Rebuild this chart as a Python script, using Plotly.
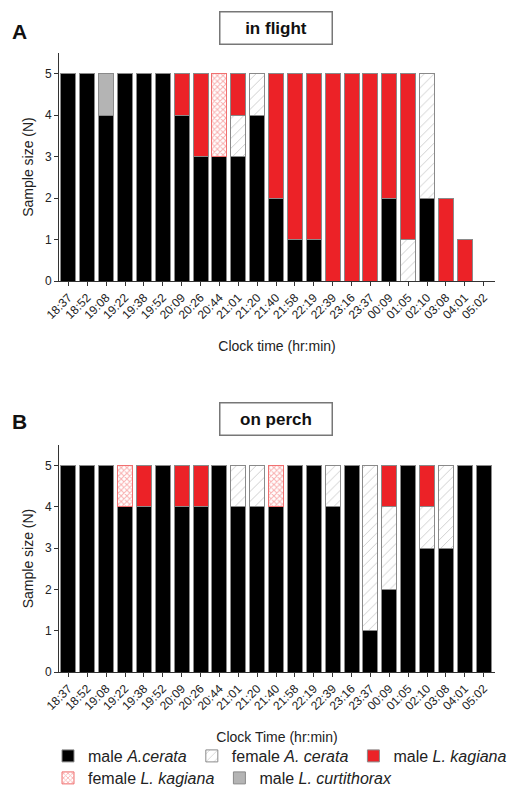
import plotly.graph_objects as go

times = ["18:37", "18:52", "19:08", "19:22", "19:38", "19:52", "20:09", "20:26",
         "20:44", "21:01", "21:20", "21:40", "21:58", "22:19", "22:39", "23:16",
         "23:37", "00:09", "01:05", "02:10", "03:08", "04:01", "05:02"]

# Panel A: in flight
flight_male_acerata = [5, 5, 4, 5, 5, 5, 4, 3, 3, 3, 4, 2, 1, 1, 0, 0, 0, 2, 0, 2, 0, 0, 0]
flight_female_acerata = [0, 0, 0, 0, 0, 0, 0, 0, 0, 1, 1, 0, 0, 0, 0, 0, 0, 0, 1, 3, 0, 0, 0]
flight_male_lkagiana = [0, 0, 0, 0, 0, 0, 1, 2, 0, 1, 0, 3, 4, 4, 5, 5, 5, 3, 4, 0, 2, 1, 0]
flight_female_lkagiana = [0, 0, 0, 0, 0, 0, 0, 0, 2, 0, 0, 0, 0, 0, 0, 0, 0, 0, 0, 0, 0, 0, 0]
flight_male_lcurt = [0, 0, 1, 0, 0, 0, 0, 0, 0, 0, 0, 0, 0, 0, 0, 0, 0, 0, 0, 0, 0, 0, 0]

# Panel B: on perch
perch_male_acerata = [5, 5, 5, 4, 4, 5, 4, 4, 5, 4, 4, 4, 5, 5, 4, 5, 1, 2, 5, 3, 3, 5, 5]
perch_female_acerata = [0, 0, 0, 0, 0, 0, 0, 0, 0, 1, 1, 0, 0, 0, 1, 0, 4, 2, 0, 1, 2, 0, 0]
perch_male_lkagiana = [0, 0, 0, 0, 1, 0, 1, 1, 0, 0, 0, 0, 0, 0, 0, 0, 0, 1, 0, 1, 0, 0, 0]
perch_female_lkagiana = [0, 0, 0, 1, 0, 0, 0, 0, 0, 0, 0, 1, 0, 0, 0, 0, 0, 0, 0, 0, 0, 0, 0]
perch_male_lcurt = [0] * 23

series_names = ["male <i>A.cerata</i>", "female <i>A. cerata</i>", "male <i>L. kagiana</i>",
                "female <i>L. kagiana</i>", "male <i>L. curtithorax</i>"]
legend_rows = ["legend", "legend", "legend", "legend2", "legend2"]

RED = "#EC2227"
styles = [
    dict(color="#000000", line=dict(color="#8a8a8a", width=1)),
    dict(color="#ffffff", line=dict(color="#8a8a8a", width=1),
         pattern=dict(shape="/", fgcolor="#8f8f8f", bgcolor="#ffffff", size=7, solidity=0.12)),
    dict(color=RED, line=dict(color="#8a8a8a", width=1)),
    dict(color="#ffffff", line=dict(color="#F07070", width=1),
         pattern=dict(shape="x", fgcolor="#F26060", bgcolor="#ffffff", size=4, solidity=0.45)),
    dict(color="#B4B4B4", line=dict(color="#8a8a8a", width=1)),
]

def nz(v):
    return [x if x else None for x in v]

fig = go.Figure()
panels = [
    ("x", "y", [flight_male_acerata, flight_female_acerata, flight_male_lkagiana,
                flight_female_lkagiana, flight_male_lcurt], True),
    ("x2", "y2", [perch_male_acerata, perch_female_acerata, perch_male_lkagiana,
                  perch_female_lkagiana, perch_male_lcurt], False),
]
for xa, ya, data, show in panels:
    for i, vals in enumerate(data):
        fig.add_trace(go.Bar(
            x=times, y=nz(vals), name=series_names[i], xaxis=xa, yaxis=ya,
            marker=styles[i], legendgroup=str(i), showlegend=show,
            legend=legend_rows[i], hoverinfo="skip"))

# page has an 8px body margin: figure is sized to fit inside the window
OFF = 8
W = 525.0 - 2 * OFF
H = 798.0 - 2 * OFF


def px(xr):
    return (xr - OFF) / W


def py(yr):
    return 1 - (yr - OFF) / H


font = "Liberation Sans, Arial, sans-serif"
axis_common = dict(showline=True, linecolor="#333", linewidth=1, ticks="outside",
                   ticklen=4, tickcolor="#333", showgrid=False, zeroline=False,
                   automargin=False,
                   tickfont=dict(family=font, size=12, color="#222"))
xdom = [px(59), px(495)]
legend_common = dict(orientation="h", x=px(48), xanchor="left", yanchor="middle",
                     font=dict(family=font, size=16, color="#222"), traceorder="normal",
                     tracegroupgap=0, bgcolor="rgba(0,0,0,0)")
fig.update_layout(
    width=int(W), height=int(H), margin=dict(l=0, r=0, t=0, b=0, autoexpand=False),
    plot_bgcolor="white", paper_bgcolor="white",
    barmode="stack", bargap=0.2,
    font=dict(family=font, color="#222"),
    xaxis=dict(domain=xdom, anchor="y", range=[-0.5, 22.6], tickangle=-45,
               title=dict(text="Clock time (hr:min)", font=dict(size=14), standoff=20),
               **axis_common),
    yaxis=dict(domain=[py(281), py(53)], anchor="x", range=[0, 5.5],
               tickvals=[0, 1, 2, 3, 4, 5],
               title=dict(text="Sample size (N)", font=dict(size=14), standoff=8),
               **axis_common),
    xaxis2=dict(domain=xdom, anchor="y2", range=[-0.5, 22.6], tickangle=-45,
                title=dict(text="Clock Time (hr:min)", font=dict(size=14), standoff=20),
                **axis_common),
    yaxis2=dict(domain=[py(672), py(445)], anchor="x2", range=[0, 5.5],
                tickvals=[0, 1, 2, 3, 4, 5],
                title=dict(text="Sample size (N)", font=dict(size=14), standoff=8),
                **axis_common),
    legend=dict(y=py(756), **legend_common),
    legend2=dict(y=py(778), **legend_common),
    showlegend=True,
)

for ytxt, txt in [(28, "<b>in flight</b>"), (419, "<b>on perch</b>")]:
    fig.add_annotation(x=px(276), y=py(ytxt), xref="paper", yref="paper",
                       xanchor="center", yanchor="middle",
                       text=txt, showarrow=False, width=106, height=26,
                       font=dict(family=font, size=17, color="#111"),
                       bordercolor="#777", borderwidth=1.5, borderpad=2.5, bgcolor="white")
for ytxt, txt in [(32, "<b>A</b>"), (421, "<b>B</b>")]:
    fig.add_annotation(x=px(19), y=py(ytxt), xref="paper", yref="paper",
                       xanchor="center", yanchor="middle",
                       text=txt, showarrow=False,
                       font=dict(family=font, size=21, color="#111"))

fig.write_html("out.html")
